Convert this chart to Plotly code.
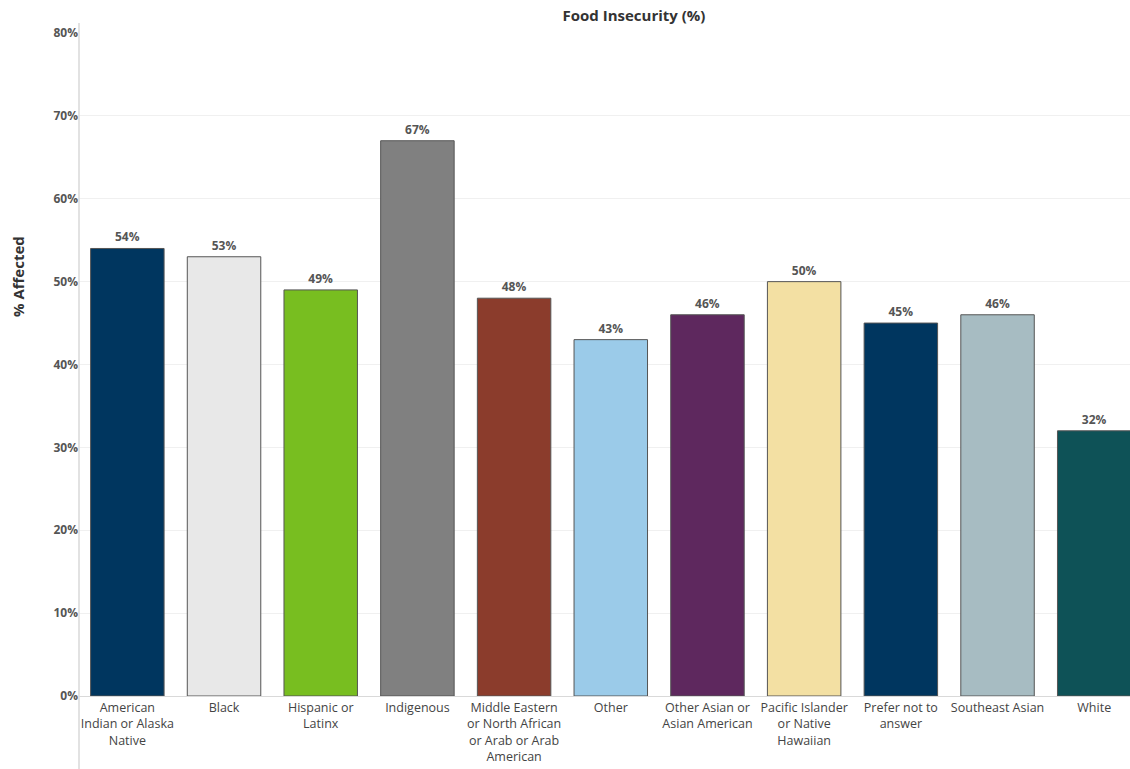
import plotly.graph_objects as go

categories = [
    "American<br>Indian or Alaska<br>Native",
    "Black",
    "Hispanic or<br>Latinx",
    "Indigenous",
    "Middle Eastern<br>or North African<br>or Arab or Arab<br>American",
    "Other",
    "Other Asian or<br>Asian American",
    "Pacific Islander<br>or Native<br>Hawaiian",
    "Prefer not to<br>answer",
    "Southeast Asian",
    "White",
]
values = [0.54, 0.53, 0.49, 0.67, 0.48, 0.43, 0.46, 0.50, 0.45, 0.46, 0.32]
labels = ["54%", "53%", "49%", "67%", "48%", "43%", "46%", "50%", "45%", "46%", "32%"]
colors = ["#00365f", "#e8e8e8", "#78be20", "#808080", "#8b3c2c", "#9bcbe9",
          "#5e285e", "#f3e0a3", "#00365f", "#a7bcc2", "#0e5257"]
yticks = [0, 0.1, 0.2, 0.3, 0.4, 0.5, 0.6, 0.7, 0.8]
ytick_text = ["0%", "10%", "20%", "30%", "40%", "50%", "60%", "70%", "80%"]

FONT = "Open Sans"

fig = go.Figure(go.Bar(
    x=categories, y=values,
    marker=dict(color=colors, line=dict(color="#555555", width=1)),
    text=labels, textposition="outside",
    textfont=dict(family=FONT, size=12, color="#555555", weight="bold"),
    cliponaxis=False, width=0.76,
))

fig.update_layout(
    width=1130, height=769,
    margin=dict(l=79, r=0, t=33, b=73),
    paper_bgcolor="white", plot_bgcolor="white",
    showlegend=False,
    title=dict(text="<b>Food Insecurity (%)</b>", x=0.561, xanchor="center",
               y=0.979, yanchor="middle",
               font=dict(family=FONT, size=15, color="#333333")),
    font=dict(family=FONT),
)
fig.update_yaxes(
    range=[0, 0.8], tickvals=yticks, ticktext=ytick_text,
    tickfont=dict(family=FONT, size=12, color="#555555", weight="bold"),
    showgrid=True, gridcolor="#f0f0f0", gridwidth=1,
    zeroline=False, showline=False, ticks="", automargin=False,
)
fig.update_xaxes(
    range=[-0.5, 10.37],
    tickfont=dict(family=FONT, size=12.5, color="#444444"),
    showline=True, linecolor="#d9d9d9", linewidth=1,
    ticks="", automargin=False, tickangle=0,
)
# vertical axis line extending through label area
fig.add_shape(type="line", xref="paper", yref="paper", x0=0, x1=0,
              y0=-0.12, y1=1.015, line=dict(color="#d9d9d9", width=1.5))
fig.add_annotation(text="<b>% Affected</b>", xref="paper", yref="paper",
                   x=-0.058, y=0.632, textangle=-90, showarrow=False,
                   xanchor="center", yanchor="middle",
                   font=dict(family=FONT, size=15, color="#333333"))

fig.write_html(
    "out.html",
    config={"displayModeBar": False},
    post_script="document.body.style.margin='0';document.body.style.overflow='hidden';",
)
